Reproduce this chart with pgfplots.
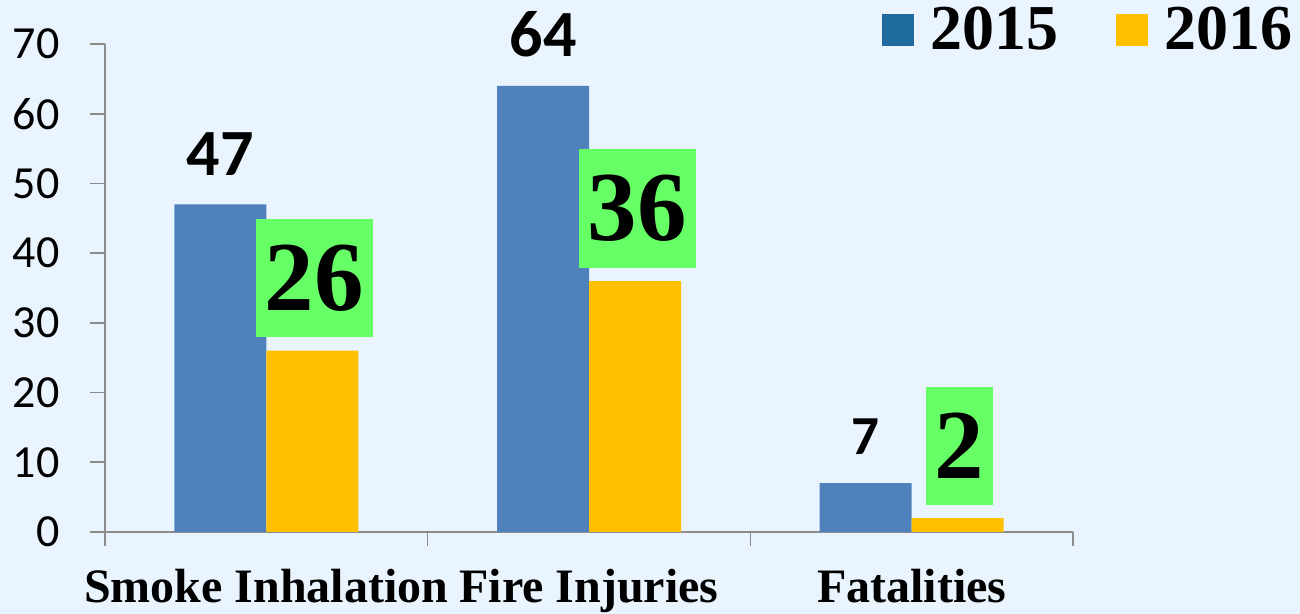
\documentclass[border=0pt]{standalone}
\usepackage{fontspec}
\usepackage{pgfplots}
\pgfplotsset{compat=1.18}
\newfontfamily\tnr{Liberation Serif}
\newfontfamily\carl{Carlito}
\definecolor{bg}{HTML}{EAF4FE}
\definecolor{bblue}{HTML}{4F81BD}
\definecolor{byellow}{HTML}{FFC000}
\definecolor{lblue}{HTML}{1F6BA0}
\definecolor{lgreen}{HTML}{66FF66}
\definecolor{axgray}{HTML}{8C8C8C}
\begin{document}
\begin{tikzpicture}
\fill[bg] (-52.5pt,-41pt) rectangle (597.5pt,266pt);
\begin{axis}[
  at={(0,0)}, anchor=south west,
  scale only axis, width=484pt, height=244pt,
  xmin=-0.5, xmax=2.5, ymin=0, ymax=70,
  clip=false,
  axis lines*=left,
  axis line style={axgray, line width=0.8pt},
  ybar=0pt, bar width=46pt,
  ytick={0,10,...,70},
  xtick={0,1,2},
  xticklabels={Smoke Inhalation, Fire Injuries, Fatalities},
  major x tick style={draw=none},
  minor xtick={-0.5,0.5,1.5,2.5},
  minor x tick style={draw=axgray, line width=0.8pt},
  minor tick length=7pt,
  ytick style={draw=axgray, line width=0.8pt},
  tick align=outside,
  major tick length=7.5pt,
  /pgf/number format/assume math mode=true,
  yticklabel style={font=\fontsize{23}{23}\selectfont\carl, anchor=east, inner sep=0pt, xshift=-15pt},
  xticklabel style={font=\fontsize{24}{24}\selectfont\tnr\bfseries, anchor=base, inner sep=0pt, yshift=-28pt},
  legend columns=2,
  legend style={at={(1.2272,1.0758)}, anchor=north east, draw=none, fill=none, inner sep=0pt,
    font=\fontsize{32}{32}\selectfont\tnr\bfseries,
    nodes={inner sep=0pt, anchor=base west},
    /tikz/every odd column/.style={column sep=8.5pt},
    /tikz/every even column/.style={column sep=28.5pt}},
]
\addplot[fill=bblue, draw=none,
  legend image code/.code={\fill[lblue] (0pt,2pt) rectangle (16pt,18pt);},
  point meta=explicit symbolic,
  nodes near coords={\pgfplotspointmeta},
  every node near coord/.append style={font=\fontsize{33}{33}\selectfont\carl\bfseries, anchor=south, inner sep=0pt, yshift=14pt, text=black}]
  coordinates {(0,47) [47] (1,64) [64] (2,7) [\fontsize{27.5}{27.5}\selectfont 7]};
\addlegendentry{2015}
\addplot[fill=byellow, draw=none,
  legend image code/.code={\fill[byellow] (0pt,2pt) rectangle (16pt,18pt);},
  point meta=explicit symbolic,
  nodes near coords={\pgfplotspointmeta},
  every node near coord/.append style={font=\fontsize{49.5}{49.5}\selectfont\tnr\bfseries, fill=lgreen, anchor=south, inner xsep=4.5pt, inner ysep=13pt, yshift=6.5pt, xshift=1pt, text=black}]
  coordinates {(0,26) [26] (1,36) [36] (2,2) [2]};
\addlegendentry{2016}
\end{axis}
\pgfresetboundingbox
\path[use as bounding box] (-52.5pt,-41pt) rectangle (597.5pt,266pt);
\end{tikzpicture}
\end{document}
